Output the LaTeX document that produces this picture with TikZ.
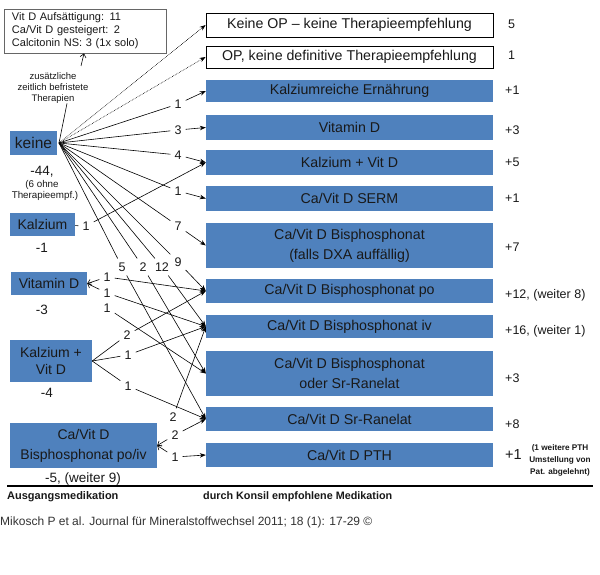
\documentclass[tikz,border=0pt]{standalone}
\usepackage{fontspec}
\setmainfont{Liberation Sans}
\usetikzlibrary{arrows.meta}
\definecolor{boxblue}{HTML}{4F81BD}
\begin{document}
\begin{tikzpicture}[x=1pt,y=-1pt,
 every node/.style={inner sep=0pt, text=black!90},
 rbox/.style={fill=boxblue, minimum width=287pt, align=center, font=\fontsize{14.2}{20}\selectfont},
 wbox/.style={draw=black, line width=0.8pt, fill=white, minimum width=287pt, align=center, font=\fontsize{14.2}{20}\selectfont},
 lbox/.style={fill=boxblue, align=center, font=\fontsize{14}{20}\selectfont},
 num/.style={font=\fontsize{12.5}{14}\selectfont, inner sep=4pt},
 val/.style={anchor=west, font=\fontsize{12.5}{14}\selectfont},
 lv/.style={font=\fontsize{13.5}{15}\selectfont},
 conn/.style={line width=0.6pt, black},
 arr/.style={conn, -{Stealth[length=6pt,width=4.5pt]}},
 back/.style={conn, -{Straight Barb[length=3.5pt,width=6pt]}},
 dot/.style={conn, densely dotted, -{Stealth[length=6pt,width=4.5pt]}},
]
\fill[white] (0,0) rectangle (600,575);
\useasboundingbox (0,0) rectangle (600,575);

% right column
\node[wbox, minimum height=24pt] (r1) at (349.5,25) {Keine OP – keine Therapieempfehlung};
\node[wbox, minimum height=22pt] (r2) at (349.5,57) {OP, keine definitive Therapieempfehlung};
\node[rbox, minimum height=22pt] (r3) at (349.5,91) {Kalziumreiche Ernährung};
\node[rbox, minimum height=25pt] (r4) at (349.5,127.5) {Vitamin D};
\node[rbox, minimum height=25pt] (r5) at (349.5,162.5) {Kalzium + Vit D};
\node[rbox, minimum height=25pt] (r6) at (349.5,198.5) {Ca/Vit D SERM};
\node[rbox, minimum height=45pt] (r7) at (349.5,245.5) {Ca/Vit D Bisphosphonat\\(falls DXA auffällig)};
\node[rbox, minimum height=24pt] (r8) at (349.5,291) {Ca/Vit D Bisphosphonat po};
\node[rbox, minimum height=23pt] (r9) at (349.5,326.5) {Ca/Vit D Bisphosphonat iv};
\node[rbox, minimum height=45pt] (r10) at (349.5,373.5) {Ca/Vit D Bisphosphonat\\oder Sr-Ranelat};
\node[rbox, minimum height=24pt] (r11) at (349.5,419) {Ca/Vit D Sr-Ranelat};
\node[rbox, minimum height=24pt] (r12) at (349.5,455) {Ca/Vit D PTH};

\node[val] (v1) at (508,24) {5};
\node[val] (v2) at (508,55) {1};
\node[val] (v3) at (505,90) {+1};
\node[val] (v4) at (505,130) {+3};
\node[val] (v5) at (505,162) {+5};
\node[val] (v6) at (505,198) {+1};
\node[val] (v7) at (505,247) {+7};
\node[val] (v8) at (505,295) {+12, (weiter 8)};
\node[val] (v9) at (505,331) {+16, (weiter 1)};
\node[val] (v10) at (505,378) {+3};
\node[val] (v11) at (505,424) {+8};
\node[val, font=\fontsize{14.5}{16}\selectfont] (v12) at (505,455) {+1};
\node[font=\bfseries\fontsize{8.2}{12}\selectfont, align=center] (note) at (560,460) {(1 weitere PTH\\Umstellung von\\Pat. abgelehnt)};

% left column
\node[draw=black!60, line width=0.8pt, fill=white, minimum width=162pt, minimum height=44pt, text width=146pt, align=left, font=\fontsize{11}{13}\selectfont] (top) at (85,31) {Vit D Aufsättigung: 11\\Ca/Vit D gesteigert: 2\\Calcitonin NS: 3 (1x solo)};
\node[font=\fontsize{9.5}{10.8}\selectfont, align=center] (zus) at (53,88) {zusätzliche\\zeitlich befristete\\Therapien};
\coordinate (zt) at (81,66);

\node[lbox, minimum width=47pt, minimum height=24pt, font=\fontsize{15.5}{18}\selectfont] (keine) at (33.5,143) {keine};
\coordinate (hub) at (59,143);
\node[lv] (n44) at (42,172) {-44,};
\node[font=\fontsize{9.8}{11}\selectfont] (n6) at (42,185) {(6 ohne};
\node[font=\fontsize{9.8}{11}\selectfont] (nT) at (45,196) {Therapieempf.)};

\node[lbox, minimum width=65pt, minimum height=23pt] (kal) at (42.5,224.5) {Kalzium};
\node[lv] (n1) at (42,248) {-1};
\node[lbox, minimum width=76pt, minimum height=23pt] (vitd) at (49,283.5) {Vitamin D};
\node[lv] (n3) at (42,310) {-3};
\node[lbox, minimum width=82pt, minimum height=42pt, font=\fontsize{14}{16.5}\selectfont] (kvd) at (51,361) {Kalzium +\\Vit D};
\node[lv] (n4) at (47,393) {-4};
\node[lbox, minimum width=147pt, minimum height=45pt] (bis) at (83.5,445.5) {Ca/Vit D\\Bisphosphonat po/iv};
\node[lv] (n5) at (83,479) {-5, (weiter 9)};

% connectors from keine
\draw[dot] (hub) -- (r1.west);
\draw[dot] (hub) -- (r2.west);
\draw[conn] (hub) -- ([xshift=14pt]zus.south);
\draw[back] (zt) -- ([xshift=-1pt]top.south);

\node[num] (k1) at (178,104) {1};
\node[num] (k3) at (178,130) {3};
\node[num] (k4) at (178,155) {4};
\node[num] (k1b) at (178,191) {1};
\node[num] (k7) at (178,226) {7};
\node[num] (k9) at (178,262) {9};
\node[num] (k12) at (162,267) {12};
\node[num] (k2) at (143,267) {2};
\node[num] (k5) at (122,267) {5};
\foreach \l in {k1,k3,k4,k1b,k7,k9,k12,k2,k5} \draw[conn] (hub) -- (\l);
\draw[arr] (k1) -- (r3.west);
\draw[arr] (k3) -- (r4.west);
\draw[arr] (k4) -- (r5.west);
\draw[arr] (k1b) -- (r6.west);
\draw[arr] (k7) -- (r7.west);
\draw[arr] (k9) -- (r8.west);
\draw[arr] (k12) -- (r9.west);
\draw[arr] (k2) -- (r10.west);
\draw[arr] (k5) -- (r11.west);

% Kalzium
\node[num] (ka1) at (86,226) {1};
\draw[conn] (kal) -- (ka1);
\draw[arr] (ka1) -- (r5.west);

% Vitamin D
\node[num] (vd1) at (107,277) {1};
\node[num] (vd2) at (107,293) {1};
\node[num] (vd3) at (107,308) {1};
\draw[back] (vd1) -- (vitd.east);
\draw[back] (vd2) -- (vitd.east);
\draw[arr] (vd1) -- (r8.west);
\draw[arr] (vd2) -- (r9.west);
\draw[arr] (vd3) -- (r10.west);

% Kalzium + Vit D
\node[num] (kv2) at (127,335) {2};
\node[num] (kv1) at (128,355) {1};
\node[num] (kv1b) at (128,386) {1};
\foreach \l in {kv2,kv1,kv1b} \draw[conn] (kvd.east) -- (\l);
\draw[arr] (kv2) -- (r8.west);
\draw[arr] (kv1) -- (r9.west);
\draw[arr] (kv1b) -- (r11.west);

% Bisphosphonat
\node[num] (b2a) at (173,417) {2};
\node[num] (b2b) at (175,435) {2};
\node[num] (b1) at (175,457) {1};
\draw[back] (b2b) -- (bis.east);
\draw[back] (b1) -- (bis.east);
\draw[arr] (b2a) -- (r9.west);
\draw[arr] (b2b) -- (r11.west);
\draw[arr] (b1) -- (r12.west);

% footer
\coordinate (fl) at (7,486);
\coordinate (fr) at (593,486);
\draw[line width=1.2pt] (fl) -- (fr);
\node[anchor=west, font=\bfseries\fontsize{11}{12}\selectfont] (fa) at (7,497) {Ausgangsmedikation};
\node[anchor=west, font=\bfseries\fontsize{10.8}{12}\selectfont] (fb) at (203,497) {durch Konsil empfohlene Medikation};
\node[anchor=west, font=\fontsize{12}{13}\selectfont, text=black!80] (cite) at (0,522) {Mikosch P et al. Journal für Mineralstoffwechsel 2011; 18 (1): 17-29 ©};
\end{tikzpicture}
\end{document}
